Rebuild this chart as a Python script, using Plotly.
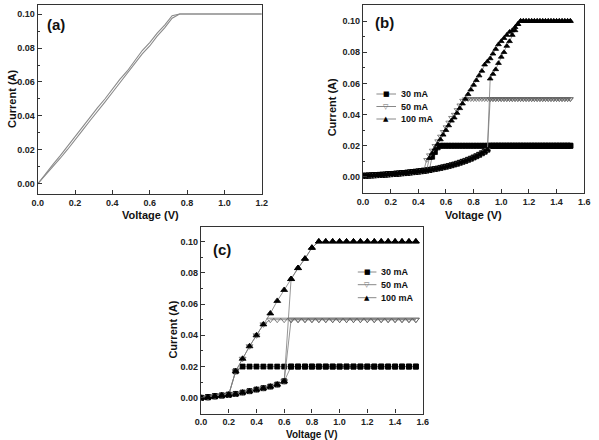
import plotly.graph_objects as go

W, H = 599, 440
FONT = "Liberation Sans, Arial, sans-serif"

# ---------------- panel (a) data ----------------
a_volt = [0.00, 0.04, 0.08, 0.12, 0.16, 0.20, 0.24, 0.28, 0.32, 0.36, 0.40,
          0.44, 0.48, 0.52, 0.56, 0.60, 0.64, 0.68, 0.72, 0.76, 0.80, 0.84,
          0.88, 0.92, 0.96, 1.00, 1.04, 1.08, 1.12, 1.16, 1.20]
a_curr1 = [0.0000, 0.0058, 0.0112, 0.0165, 0.0222, 0.0280, 0.0332, 0.0392,
           0.0448, 0.0500, 0.0558, 0.0615, 0.0665, 0.0722, 0.0785, 0.0832,
           0.0888, 0.0935, 0.0990, 0.1000, 0.1000, 0.1000, 0.1000, 0.1000,
           0.1000, 0.1000, 0.1000, 0.1000, 0.1000, 0.1000, 0.1000]
a_curr2 = [0.0000, 0.0048, 0.0098, 0.0150, 0.0203, 0.0262, 0.0315, 0.0372,
           0.0430, 0.0482, 0.0538, 0.0595, 0.0648, 0.0703, 0.0765, 0.0812,
           0.0870, 0.0918, 0.0975, 0.1000, 0.1000, 0.1000, 0.1000, 0.1000,
           0.1000, 0.1000, 0.1000, 0.1000, 0.1000, 0.1000, 0.1000]

# ---------------- panel (b) data (sweep step 0.02 V, 0 -> 1.50 V) ----------------
b_volt = [round(i * 0.02, 2) for i in range(76)]
# high-resistance branch 0.00 .. 0.90 V
b_hrs = [0.0007, 0.0008, 0.0009, 0.0010, 0.0011, 0.0012, 0.0013, 0.0014, 0.0015, 0.0017,
         0.0018, 0.0019, 0.0021, 0.0022, 0.0024, 0.0025, 0.0027, 0.0029, 0.0031, 0.0033,
         0.0035, 0.0037, 0.0040, 0.0042, 0.0045, 0.0048, 0.0051, 0.0054, 0.0058, 0.0062,
         0.0066, 0.0070, 0.0075, 0.0080, 0.0085, 0.0091, 0.0097, 0.0103, 0.0110, 0.0117,
         0.0125, 0.0133, 0.0142, 0.0152, 0.0162, 0.0175]
# forward sweep after switching, 0.92 .. 1.50 V
b_fwd_30 = [0.020] * 30
b_fwd_50 = [0.050] * 30
b_fwd_100 = [0.063, 0.066, 0.069, 0.073, 0.077, 0.080, 0.084, 0.087, 0.091, 0.094,
             0.098] + [0.100] * 19
# reverse sweep (from 1.50 V downward) until the drop back to high resistance
b_rev_30 = [0.020] * 48 + [0.019, 0.016, 0.013]
b_rev_50 = [0.050] * 39 + [0.049, 0.046, 0.043, 0.040, 0.038, 0.035, 0.032, 0.029,
                           0.026, 0.023, 0.020, 0.017, 0.014, 0.011]
b_rev_100 = [0.100] * 19 + [0.098, 0.096, 0.094, 0.093, 0.091, 0.089, 0.087, 0.085,
                            0.082, 0.079, 0.076, 0.074, 0.072, 0.068, 0.065, 0.062,
                            0.059, 0.056, 0.053, 0.050, 0.047, 0.044, 0.041, 0.038,
                            0.036, 0.033, 0.030, 0.027, 0.024, 0.021, 0.018, 0.015,
                            0.012]

# ---------------- panel (c) data (sweep step 0.05 V, 0 -> 1.55 V) ----------------
c_volt = [round(i * 0.05, 2) for i in range(32)]
c_hrs = [0.0000, 0.0004, 0.0010, 0.0015, 0.0020, 0.0025, 0.0034, 0.0043, 0.0053,
         0.0062, 0.0072, 0.0085, 0.0106]
c_fwd_30 = [0.020] * 19
c_fwd_50 = [0.050] * 19
c_fwd_100 = [0.076, 0.083, 0.089, 0.096] + [0.100] * 15
c_rev_30 = [0.020] * 26 + [0.017]
c_rev_50 = [0.050] * 22 + [0.047, 0.040, 0.033, 0.025, 0.017]
c_rev_100 = [0.100] * 15 + [0.096, 0.089, 0.083, 0.076, 0.069, 0.062, 0.054, 0.047,
                            0.040, 0.033, 0.025, 0.017]

labels = ["30 mA", "50 mA", "100 mA"]
symbols = ["square", "triangle-down-open", "triangle-up"]
mcolors = ["#000000", "#666666", "#000000"]
LINE_GRAY = "#7a7a7a"


def loop(volt, hrs, fwd, rev):
    n = len(volt)
    fwd_i = hrs + fwd
    rev_i = rev + hrs[:n - len(rev)][::-1]
    return volt + volt[::-1], fwd_i + rev_i


fig = go.Figure()

# panel (a)
for curr, col in [(a_curr2, "#8a8a8a"), (a_curr1, "#8a8a8a")]:
    fig.add_trace(go.Scatter(x=a_volt, y=curr, mode="lines", xaxis="x", yaxis="y",
                             line=dict(color=col, width=1.1), showlegend=False))

# panel (b)
for k, (fwd, rev) in enumerate([(b_fwd_30, b_rev_30), (b_fwd_50, b_rev_50),
                                (b_fwd_100, b_rev_100)]):
    xv, yv = loop(b_volt, b_hrs, fwd, rev)
    fig.add_trace(go.Scatter(x=xv, y=yv, mode="lines+markers", xaxis="x2", yaxis="y2",
                             name=labels[k], showlegend=False,
                             line=dict(color=LINE_GRAY, width=0.8),
                             marker=dict(symbol=symbols[k], size=5, color=mcolors[k],
                                         line=dict(color=mcolors[k], width=0.8))))

# panel (c)
for k, (fwd, rev) in enumerate([(c_fwd_30, c_rev_30), (c_fwd_50, c_rev_50),
                                (c_fwd_100, c_rev_100)]):
    xv, yv = loop(c_volt, c_hrs, fwd, rev)
    fig.add_trace(go.Scatter(x=xv, y=yv, mode="lines+markers", xaxis="x3", yaxis="y3",
                             name=labels[k], showlegend=False,
                             line=dict(color=LINE_GRAY, width=0.8),
                             marker=dict(symbol=symbols[k], size=6 if k else 5,
                                         color=mcolors[k],
                                         line=dict(color=mcolors[k], width=0.8))))


def px(x):
    return x / W


def py(y):
    return 1 - y / H


tickfont = dict(family=FONT, size=9, color="#222", weight="bold")


def xaxis(dom, rng, anchor):
    return dict(domain=[px(dom[0]), px(dom[1])], range=rng, anchor=anchor,
                dtick=0.2, tick0=0, tickformat=".1f", showline=True, linecolor="#333",
                linewidth=1.2, mirror=True, ticks="inside", ticklen=4, tickcolor="#333",
                showgrid=False, zeroline=False, tickfont=tickfont)


def yaxis(dom, rng, anchor):
    return dict(domain=[py(dom[1]), py(dom[0])], range=rng, anchor=anchor,
                dtick=0.02, tick0=0, tickformat=".2f", showline=True, linecolor="#333",
                linewidth=1.2, mirror=True, ticks="inside", ticklen=4, tickcolor="#333",
                showgrid=False, zeroline=False, tickfont=tickfont,
                minor=dict(ticks="inside", ticklen=2, dtick=0.01, tick0=0,
                           tickcolor="#333", showgrid=False))


C_TOP, C_BOT = 226.5, 413.5

fig.update_layout(
    width=W, height=H, margin=dict(l=0, r=0, t=0, b=0),
    paper_bgcolor="white", plot_bgcolor="white", showlegend=False,
    xaxis=xaxis((32.3, 261), [0, 1.2], "y"),
    yaxis=yaxis((5, 194), [-0.0059, 0.1053], "x"),
    xaxis2=xaxis((364.3, 590), [0, 1.6], "y2"),
    yaxis2=yaxis((5, 193), [-0.0103, 0.1103], "x2"),
    xaxis3=xaxis((199, 425.3), [0, 1.6], "y3"),
    yaxis3=yaxis((C_TOP, C_BOT), [-0.010, 0.1096], "x3"),
)

ann = []
shapes = []
tfont = dict(family=FONT, size=11, color="#111", weight="bold")


def text(x, y, s, font, angle=0, xanchor="center"):
    ann.append(dict(x=px(x), y=py(y), xref="paper", yref="paper", text=s,
                    showarrow=False, font=font, textangle=angle,
                    xanchor=xanchor, yanchor="middle"))


# axis titles
text(6, 99, "Current (A)", tfont, -90)
text(147, 215, "Voltage (V)", tfont)
text(333, 107, "Current (A)", tfont, -90)
text(477, 215, "Voltage (V)", tfont)
text(170, 330, "Current (A)", tfont, -90)
text(312, 434.5, "Voltage (V)", dict(family=FONT, size=10, color="#111", weight="bold"))

# panel labels
plfont = dict(family=FONT, size=15, color="#111", weight="bold")
text(51, 24, "(a)", plfont)
text(386, 23, "(b)", plfont)
text(220, 249, "(c)", plfont)

# legends
glyphs = ["■", "▽", "▲"]
lfont = dict(family=FONT, size=9, color="#111", weight="bold")
for (x0, x1, xt, ys) in [(378, 398, 401, [94, 106.5, 119]),
                         (359, 378, 381, [272, 284.7, 297.7])]:
    for k, yy in enumerate(ys):
        shapes.append(dict(type="line", xref="paper", yref="paper",
                           x0=px(x0), x1=px(x1), y0=py(yy), y1=py(yy),
                           line=dict(color=LINE_GRAY, width=0.9)))
        text((x0 + x1) / 2, yy, glyphs[k],
             dict(family="DejaVu Sans", size=7, color=mcolors[k]))
        text(xt, yy, labels[k], lfont, xanchor="left")

fig.update_layout(annotations=ann, shapes=shapes)
fig.write_html("out.html")
